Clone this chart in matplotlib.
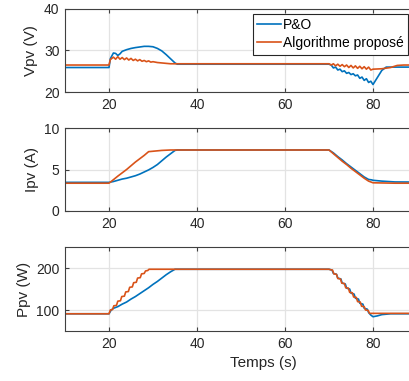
import matplotlib
matplotlib.use("Agg")
import matplotlib.pyplot as plt

plt.rcParams["font.family"] = ["Liberation Sans", "DejaVu Sans"]

BLUE = "#0072BD"
ORANGE = "#D95319"

# ---- Vpv (V) ----
t_v_po = [10, 20, 20.3, 21, 21.5, 22, 22.5, 23, 24, 25, 26, 27, 28, 29, 30, 31, 32, 33, 34, 35, 35.5,
          70, 70.5, 71, 71.5, 72, 72.5, 73, 73.5, 74, 74.5, 75, 75.5, 76, 76.5, 77, 77.5, 78, 78.5,
          79, 79.5, 80, 81, 82, 83, 84, 100]
v_po = [25.9, 25.9, 28.0, 29.4, 29.3, 28.8, 29.2, 29.8, 30.2, 30.5, 30.7, 30.85, 31.0, 31.0, 30.9, 30.5,
        29.9, 29.0, 28.0, 27.0, 26.7,
        26.7, 26.5, 25.8, 26.0, 25.3, 25.5, 24.9, 25.1, 24.5, 24.7, 24.2, 24.4, 23.9, 24.1, 23.3, 23.6,
        22.8, 23.2, 22.3, 22.6, 21.8, 23.5, 25.2, 26.0, 26.0, 26.0]

t_v_prop = [10, 20, 20.3, 21, 21.5, 22, 22.5, 23, 23.5, 24, 24.5, 25, 25.5, 26, 26.5, 27, 27.5, 28, 28.5,
            29, 29.5, 30, 31, 32, 33, 34, 35,
            70, 70.5, 71, 71.5, 72, 72.5, 73, 73.5, 74, 74.5, 75, 75.5, 76, 76.5, 77, 77.5, 78, 78.5,
            79, 79.5, 80, 82, 84, 85.5, 87, 100]
v_prop = [26.5, 26.5, 27.8, 28.4, 27.9, 28.5, 27.9, 28.3, 27.8, 28.2, 27.7, 28.1, 27.6, 27.9, 27.5, 27.8,
          27.4, 27.6, 27.3, 27.5, 27.2, 27.3, 27.1, 27.0, 26.9, 26.8, 26.8,
          26.8, 26.5, 26.8, 26.3, 26.7, 26.2, 26.6, 26.1, 26.5, 25.9, 26.4, 25.8, 26.3, 25.7, 26.2, 25.6,
          26.1, 25.5, 26.0, 25.3, 25.5, 25.6, 25.9, 26.4, 26.5, 26.5]

# ---- Ipv (A) ----
t_i_po = [10, 20, 21, 22, 23, 24, 25, 26, 27, 28, 29, 30, 31, 32, 33, 34, 35, 35.5,
          70, 71, 72, 73, 74, 75, 76, 77, 78, 79, 79.7, 80, 82, 85, 100]
i_po = [3.45, 3.45, 3.55, 3.7, 3.85, 3.95, 4.1, 4.25, 4.45, 4.7, 4.95, 5.25, 5.6, 6.05, 6.5, 6.9, 7.3, 7.35,
        7.35, 7.0, 6.55, 6.15, 5.7, 5.3, 4.9, 4.5, 4.1, 3.8, 3.75, 3.7, 3.6, 3.5, 3.45]

t_i_prop = [10, 20, 21, 22, 23, 24, 25, 26, 27, 28, 29, 30, 32, 34,
            70, 71, 72, 73, 74, 75, 76, 77, 78, 79, 79.5, 80, 85, 100]
i_prop = [3.35, 3.35, 3.77, 4.2, 4.6, 5.0, 5.45, 5.9, 6.3, 6.7, 7.15, 7.2, 7.3, 7.35,
          7.35, 6.9, 6.45, 6.0, 5.6, 5.15, 4.75, 4.35, 3.95, 3.6, 3.5, 3.4, 3.35, 3.35]

# ---- Ppv (W) ----
t_p_po = [10, 20, 20.5, 21, 22, 23, 24, 25, 26, 27, 28, 29, 30, 31, 32, 33, 34, 35,
          70, 70.7, 71.0, 71.7, 72.0, 72.7, 73.0, 73.7, 74.0, 74.7, 75.0, 75.7, 76.0, 76.7, 77.0,
          77.7, 78.0, 78.7, 79.0, 79.5, 80.0, 81, 82, 84, 100]
p_po = [91, 91, 100, 104, 108, 114, 119, 126, 132, 139, 146, 153, 161, 168, 176, 184, 191, 197,
        197, 195, 187, 185, 176, 174, 164, 162, 152, 150, 140, 138, 128, 126, 116,
        114, 104, 102, 94, 88, 84, 86, 89, 91, 91]

# orange power: small staircase during the ramps
t_p_prop = [10, 20, 20.3, 20.8, 21.1, 21.7, 22.0, 22.6, 22.9, 23.5, 23.8, 24.4, 24.7, 25.3, 25.6,
            26.2, 26.5, 27.1, 27.4, 28.0, 28.3, 28.8, 29.1,
            70, 70.3, 70.8, 71.1, 71.7, 72.0, 72.6, 72.9, 73.5, 73.8, 74.4, 74.7, 75.3, 75.6,
            76.2, 76.5, 77.1, 77.4, 78.0, 78.3, 78.9, 79.2, 100]
p_prop = [91, 91, 100, 101, 110, 111, 121, 122, 132, 133, 143, 144, 154, 155, 165,
          166, 176, 177, 186, 187, 193, 194, 197,
          197, 196, 195, 186, 185, 175, 174, 164, 163, 153, 152, 142, 141, 131,
          130, 120, 119, 109, 108, 100, 99, 92, 92]

X_TICKS = [20, 40, 60, 80]

fig = plt.figure(figsize=(4.09, 3.81), dpi=100)
W, H = 409, 381


def make_ax(top_px, bot_px):
    ax = fig.add_axes([65 / W, 1 - bot_px / H, 396 / W, (bot_px - top_px) / H])
    ax.set_xlim(10, 100)
    ax.set_xticks(X_TICKS)
    ax.grid(True, color="#e3e3e3", lw=0.9)
    ax.set_axisbelow(True)
    ax.tick_params(direction="in", length=3, top=True, right=True, labelsize=10,
                   color="#404040", labelcolor="#262626", pad=4)
    for s in ax.spines.values():
        s.set_color("#404040")
        s.set_linewidth(0.8)
    return ax


ax1 = make_ax(9, 92)
ax1.plot(t_v_po, v_po, color=BLUE, lw=1.2, label="P&O")
ax1.plot(t_v_prop, v_prop, color=ORANGE, lw=1.2, label="Algorithme proposé")
ax1.set_ylim(20, 40)
ax1.set_yticks([20, 30, 40])
ax1.set_ylabel("Vpv (V)", fontsize=11, color="#262626")
leg = ax1.legend(loc="upper right", bbox_to_anchor=(408 / W, 1 - 14 / H),
                 bbox_transform=fig.transFigure, borderaxespad=0, fontsize=10,
                 fancybox=False, framealpha=1, edgecolor="#262626",
                 handlelength=1.7, handletextpad=0.15, labelspacing=0.3, borderpad=0.3)
leg.get_frame().set_linewidth(0.8)

ax2 = make_ax(128, 211)
ax2.plot(t_i_po, i_po, color=BLUE, lw=1.2)
ax2.plot(t_i_prop, i_prop, color=ORANGE, lw=1.2)
ax2.set_ylim(0, 10)
ax2.set_yticks([0, 5, 10])
ax2.set_ylabel("Ipv (A)", fontsize=11, color="#262626")

ax3 = make_ax(247, 331)
ax3.plot(t_p_po, p_po, color=BLUE, lw=1.2)
ax3.plot(t_p_prop, p_prop, color=ORANGE, lw=1.2)
ax3.set_ylim(50, 250)
ax3.set_yticks([100, 200])
ax3.set_ylabel("Ppv (W)", fontsize=11, color="#262626")
ax3.set_xlabel("Temps (s)", fontsize=11, color="#262626")

fig.savefig("out.png", dpi=100)
